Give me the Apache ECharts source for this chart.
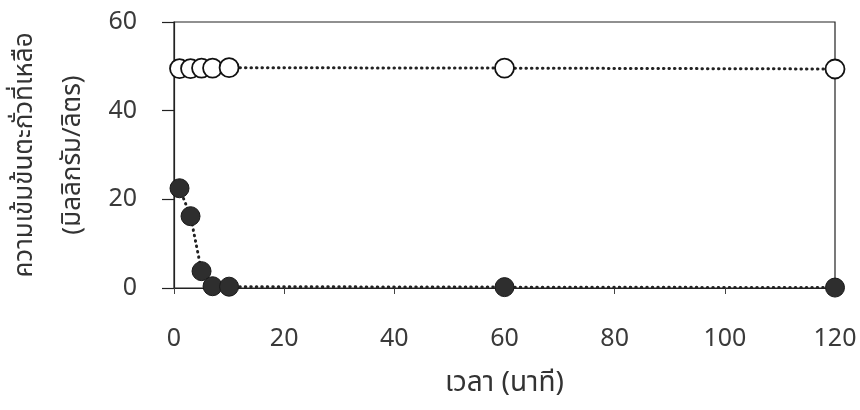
<!DOCTYPE html>
<html><head><meta charset="utf-8">
<script src="https://cdn.jsdelivr.net/npm/echarts@6/dist/echarts.min.js"></script>
<style>html,body{margin:0;padding:0;background:#fff}#c{width:860px;height:410px}</style>
</head><body><div id="c"></div>
<script>
const timeOpen = [1, 3, 5, 7, 10, 60, 120];
const valuesOpen = [49.5, 49.5, 49.6, 49.6, 49.7, 49.6, 49.4];
const timeFilled = [1, 3, 5, 7, 10, 60, 120];
const valuesFilled = [22.5, 16.2, 3.8, 0.4, 0.3, 0.2, 0.1];
const xTicks = [0, 20, 40, 60, 80, 100, 120];
const yTicks = [0, 20, 40, 60];
const xTitle = 'เวลา (นาที)';
const yTitle = 'ความเข้มข้นตะกั่วที่เหลือ\n(มิลลิกรัม/ลิตร)';

const font = '"Noto Sans", "Noto Sans Thai", "DejaVu Sans", sans-serif';
const chart = echarts.init(document.getElementById('c'), null, {renderer: 'canvas'});
chart.setOption({
  backgroundColor: '#fff',
  animation: false,
  grid: {left: 174, right: 25, top: 22, bottom: 122, containLabel: false, outerBoundsMode: 'none',
         show: true, borderColor: '#222', borderWidth: 1.2, backgroundColor: 'transparent'},
  xAxis: {
    type: 'value', min: xTicks[0], max: xTicks[xTicks.length - 1], interval: 20,
    name: xTitle, nameLocation: 'middle', nameGap: 81,
    nameTextStyle: {fontFamily: font, fontSize: 28, color: '#333'},
    axisLine: {show: true, onZero: false, lineStyle: {color: '#222', width: 1.2}},
    axisTick: {show: true, length: 6, lineStyle: {color: '#444'}},
    axisLabel: {fontFamily: font, fontSize: 25, color: '#3a3a3a', margin: 38},
    splitLine: {show: false}
  },
  yAxis: {
    type: 'value', min: yTicks[0], max: yTicks[yTicks.length - 1], interval: 20,
    name: yTitle, nameLocation: 'middle', nameGap: 77, nameRotate: 90,
    nameTextStyle: {fontFamily: font, fontSize: 26, color: '#333', lineHeight: 48},
    axisLine: {show: true, lineStyle: {color: '#222', width: 1.2}},
    axisTick: {show: true, length: 12, lineStyle: {color: '#222', width: 1.2}},
    axisLabel: {fontFamily: font, fontSize: 25, color: '#3a3a3a', margin: 37},
    splitLine: {show: false}
  },
  series: [
    {
      type: 'line', name: 'open',
      data: timeOpen.map((t, i) => [t, valuesOpen[i]]),
      symbol: 'circle', symbolSize: 19,
      itemStyle: {color: '#fff', borderColor: '#111', borderWidth: 1.8},
      lineStyle: {type: [0.5, 5], cap: 'round', color: '#222', width: 3},
      z: 3
    },
    {
      type: 'line', name: 'filled',
      data: timeFilled.map((t, i) => [t, valuesFilled[i]]),
      symbol: 'circle', symbolSize: 19,
      itemStyle: {color: '#2e2e2e', borderColor: '#1a1a1a', borderWidth: 1},
      lineStyle: {type: [0.5, 5], cap: 'round', color: '#222', width: 3},
      z: 4
    }
  ]
});
</script>
</body></html>
